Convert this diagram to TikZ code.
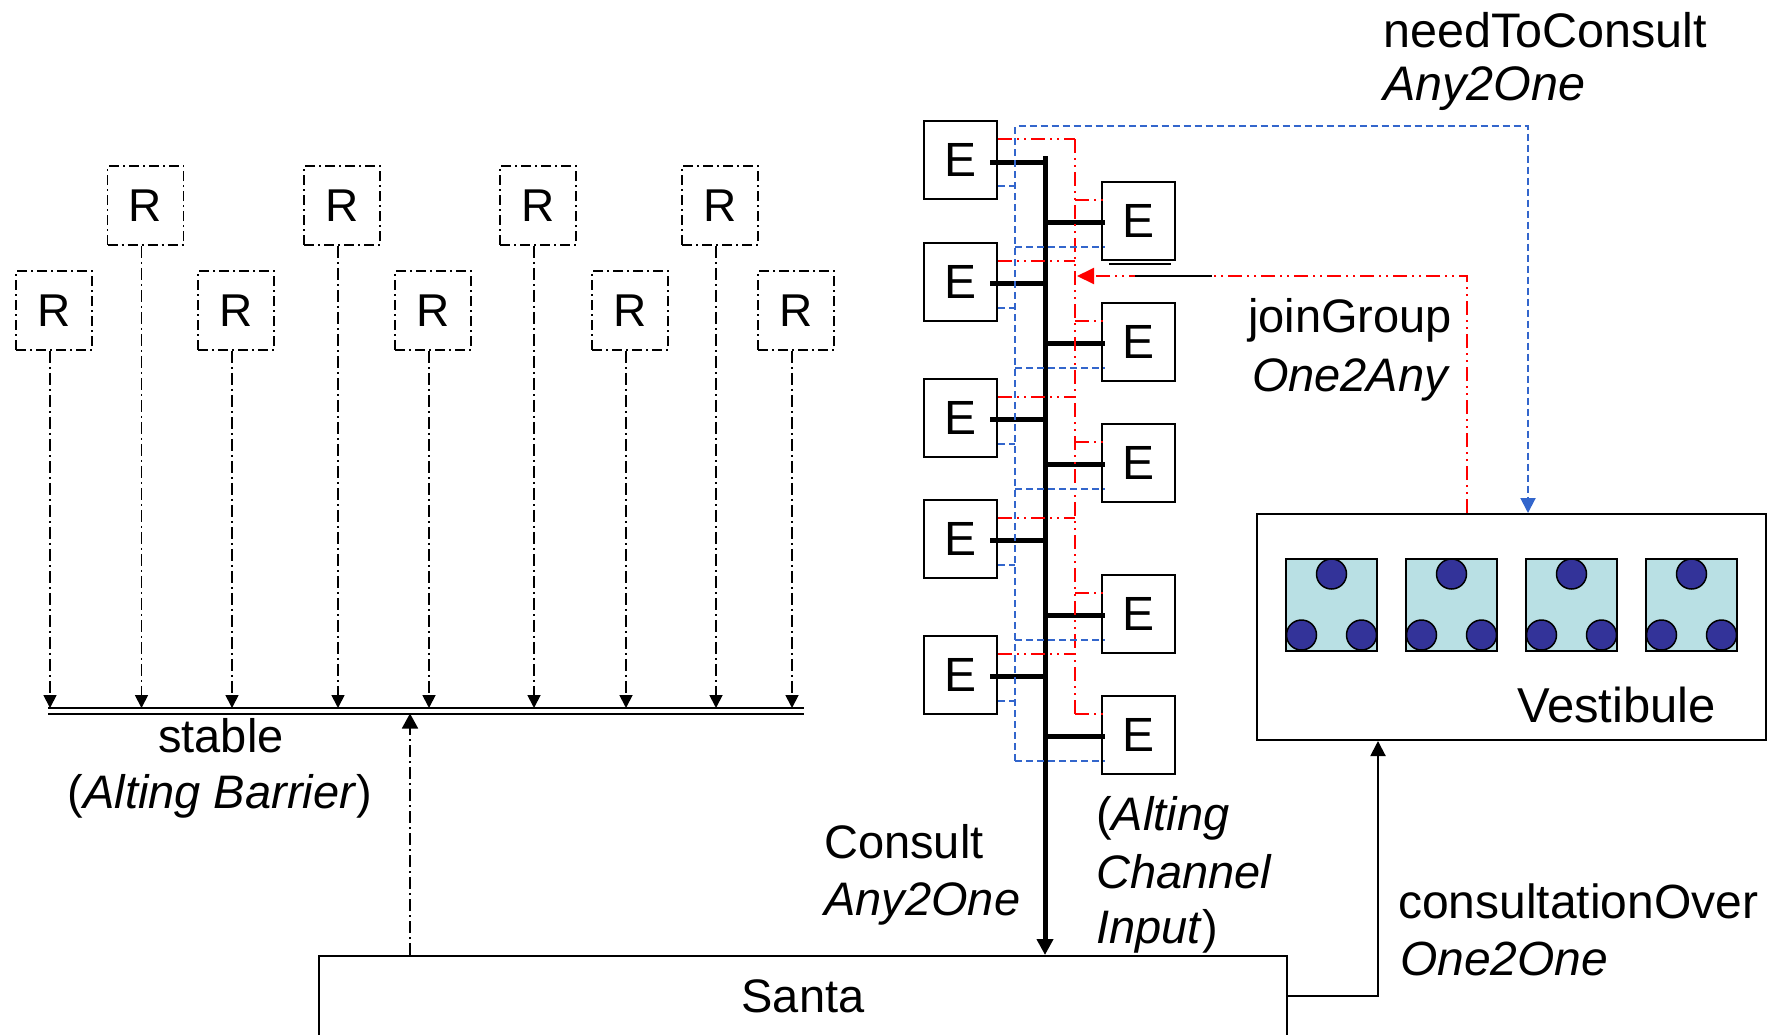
\documentclass[tikz,border=0pt]{standalone}
\usepackage{fontspec}
\setmainfont{Liberation Sans}
\usetikzlibrary{arrows.meta}
\definecolor{redl}{RGB}{255,0,0}
\definecolor{bluel}{RGB}{51,102,204}
\definecolor{cellfill}{RGB}{185,224,228}
\definecolor{dotfill}{RGB}{51,51,153}
\begin{document}
\begin{tikzpicture}[x=1pt,y=-1pt,
  ebox/.style={draw,line width=2pt,minimum width=73pt,minimum height=78pt,inner sep=0pt,font=\fontsize{48}{58}\selectfont},
  rbox/.style={draw,line width=1.8pt,dash pattern=on 10pt off 4pt on 2pt off 4pt,minimum width=76pt,minimum height=79pt,inner sep=0pt,font=\fontsize{46}{55}\selectfont},
  lbl/.style={inner sep=0pt,font=\fontsize{47}{56}\selectfont},
  itl/.style={inner sep=0pt,font=\fontsize{47}{56}\selectfont\itshape},
  biglbl/.style={inner sep=0pt,font=\fontsize{48.5}{58}\selectfont},
  bigitl/.style={inner sep=0pt,font=\fontsize{48.5}{58}\selectfont\itshape},
  tipa/.style={-{Triangle[length=15pt,width=15pt]}},
  ddash/.style={line width=1.8pt,dash pattern=on 12pt off 4pt on 2pt off 4pt},
  redd/.style={redl,line width=2pt,dash pattern=on 14pt off 5pt on 2pt off 5pt on 2pt off 5pt},
  blued/.style={bluel,line width=2pt,dash pattern=on 7pt off 4pt},
  barline/.style={line width=5pt},
  cell/.style={draw,line width=1.5pt,fill=cellfill,minimum width=91pt,minimum height=92pt,inner sep=0pt},
  dotc/.style={circle,draw,line width=1.5pt,fill=dotfill,minimum size=30pt,inner sep=0pt}
]
\useasboundingbox (0,0) rectangle (1778,1034);

% ---------- R processes ----------
\foreach \i/\x in {1/145.5,2/342,3/538,4/720}
  \node[rbox] (t\i) at (\x,205.5) {R};
\foreach \i/\x in {1/54,2/236,3/433,4/630,5/796}
  \node[rbox] (b\i) at (\x,310.5) {R};

% barrier
\coordinate (barL) at (48,708);
\coordinate (barR) at (804,708);
\coordinate (barLB) at (48,713.5);
\coordinate (barRB) at (804,713.5);
\draw[line width=2.5pt] (barL) -- (barR);
\draw[line width=2pt] (barLB) -- (barRB);

\foreach \n in {t1,t2,t3,t4,b1,b2,b3,b4,b5} {
  \path ([shift={(-4,0)}]\n.south) coordinate (s\n);
  \draw[ddash,-{Triangle[length=13pt,width=13pt]}] (s\n) -- (s\n |- barL);
}

\node[lbl,anchor=base] (stableLbl) at (221,752) {stable};
\node[lbl,anchor=base] (altBarLbl) at (220,808) {(\textit{Alting Barrier})};

% ---------- Santa ----------
\node[draw,line width=2pt,minimum width=968pt,minimum height=80pt,inner sep=0pt,font=\fontsize{47}{56}\selectfont] (santa) at (803,996) {Santa};

\coordinate (upx) at (410,0);
\draw[ddash,-{Triangle[length=15pt,width=16pt]}] (santa.north -| upx) -- (upx |- barLB);

% ---------- E processes ----------
\foreach \i/\y in {1/160,2/281.5,3/417.5,4/538.5,5/674.5}
  \node[ebox] (l\i) at (960.5,\y) {E};
\foreach \i/\y in {1/220.5,2/342,3/462.5,4/613.5,5/734.5}
  \node[ebox] (r\i) at (1138,\y) {E};

\coordinate (bustop) at (1045,156);
\coordinate (redx) at (1075,140);
\coordinate (btop) at (1015,126);

\foreach \i in {1,...,5} {
  \path ([shift={(0,19)}]l\i.north east) coordinate (lr\i)
        ([shift={(0,-14)}]l\i.south east) coordinate (lb\i)
        ([shift={(-8,2)}]l\i.east) coordinate (lk\i)
        ([shift={(0,19)}]r\i.north west) coordinate (rr\i)
        ([shift={(0,-14)}]r\i.south west) coordinate (rb\i)
        ([shift={(4,1.5)}]r\i.west) coordinate (rk\i);
}

% bus
\draw[barline,-{Triangle[length=16pt,width=16pt]}] (bustop) -- (santa.north -| bustop);
\foreach \i in {1,...,5} {
  \draw[barline] (lk\i) -- (lk\i -| bustop);
  \draw[barline] (rk\i -| bustop) -- (rk\i);
}

% red (joinGroup) lines
\draw[redd] (lr1 -| redx) -- (rr5 -| redx);
\foreach \i in {1,...,5} {
  \draw[redd] (lr\i) -- (lr\i -| redx);
  \draw[redd] (rr\i -| redx) -- ([shift={(4,0)}]rr\i);
}
% blue (needToConsult) lines
\foreach \i in {1,...,5} {
  \draw[blued] (lb\i) -- (lb\i -| btop);
  \draw[blued] (rb\i -| btop) -- ([shift={(4,0)}]rb\i);
}

% small black stroke under the first right E
\draw[line width=2pt] (1109,264) -- (1171,264);

% ---------- Vestibule ----------
\node[draw,line width=2pt,minimum width=509pt,minimum height=226pt,inner sep=0pt] (vest) at (1511.5,627) {};
\foreach \i/\x in {1/1286,2/1406,3/1526,4/1646} {
  \node[cell] (c\i) at (\x+45.5,605) {};
  \node[dotc] (dt\i) at ([shift={(0,-31)}]c\i.center) {};
  \node[dotc] (dl\i) at ([shift={(-30,30)}]c\i.center) {};
  \node[dotc] (dr\i) at ([shift={(30,30)}]c\i.center) {};
}
\node[inner sep=0pt,font=\fontsize{49}{58}\selectfont,anchor=base west] (vestLbl) at (1517,722) {Vestibule};

\coordinate (redArrow) at (1077,276);
\draw[redd,-{Triangle[length=17pt,width=16pt]}] ([shift={(-44.5,0)}]vest.north) |- (redArrow);
\draw[line width=2pt] (1135,276) -- (1212,276);
\draw[blued,tipa] (rb5 -| btop) -- (btop) -| ([shift={(16.5,0)}]vest.north);

\draw[line width=2pt,tipa] (santa.east) -| ([shift={(-133.5,0)}]vest.south);

% ---------- labels ----------
\node[biglbl,anchor=base west] (needLbl) at (1383,47) {needToConsult};
\node[bigitl,anchor=base west] (needLbl2) at (1383,100) {Any2One};
\node[lbl,anchor=base] (joinLbl) at (1350,332) {joinGroup};
\node[itl,anchor=base] (joinLbl2) at (1350,391) {One2Any};
\node[lbl,anchor=base west] (consLbl) at (824,858) {Consult};
\node[itl,anchor=base west] (consLbl2) at (824,915) {Any2One};
\node[lbl,anchor=base west] (acLbl1) at (1096,830) {(\textit{Alting}};
\node[itl,anchor=base west] (acLbl2) at (1096,888) {Channel};
\node[lbl,anchor=base west] (acLbl3) at (1096,943) {\textit{Input})};
\node[inner sep=0pt,font=\fontsize{48}{57}\selectfont,anchor=base west] (overLbl) at (1398,918) {consultationOver};
\node[inner sep=0pt,font=\fontsize{48}{57}\selectfont\itshape,anchor=base west] (overLbl2) at (1400,975) {One2One};
\end{tikzpicture}
\end{document}
